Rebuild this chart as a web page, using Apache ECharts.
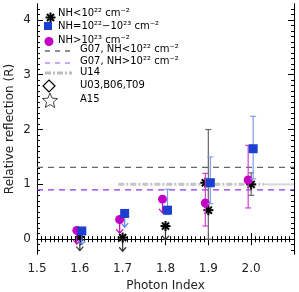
<!DOCTYPE html>
<html><head><meta charset="utf-8">
<script src="https://cdn.jsdelivr.net/npm/echarts@6/dist/echarts.min.js"></script>
<style>html,body{margin:0;padding:0;background:#fff}#c{width:299px;height:292px}</style>
</head><body><div id="c"></div>
<script>
// ---- data ----
const photonIndex = [1.6, 1.7, 1.8, 1.9, 2.0];
const xTickLabels = ['1.5', '1.6', '1.7', '1.8', '1.9', '2.0'];
const yTickLabels = [0, 1, 2, 3, 4];

// NH < 1e22 (black stars)
const lowR      = [0.04, 0.03, 0.24, 0.53, 1.00];
const lowErrLo  = [null, null, null, 0.00, 0.80];
const lowErrHi  = [null, null, null, 2.00, 1.21];
const lowUL     = [true, true, true, false, false];
// second NH<1e22 point at 1.9
const lowExtraX = [1.9];
const lowExtraR = [1.03];

// NH = 1e22-1e23 (blue squares)
const midR      = [0.15, 0.47, 0.53, 1.03, 1.65];
const midErrLo  = [null, null, 0.45, 0.65, 1.10];
const midErrHi  = [null, null, 0.91, 1.50, 2.24];
const midUL     = [true, true, false, false, false];

// NH > 1e23 (magenta circles)
const highR     = [0.16, 0.36, 0.73, 0.66, 1.08];
const highErrLo = [null, null, null, 0.24, 0.57];
const highErrHi = [null, null, null, 1.20, 1.71];
const highUL    = [true, true, true, false, false];

// reference lines
const g07LowR  = 1.31;
const g07HighR = 0.90;
const u14R     = 1.00;
const u14Range = [1.69, 2.03];
const xRange = [1.5, 2.1];
const yRange = [-0.27, 4.29];

// ---- rendering ----
const FONT = 'DejaVu Sans';
const BLUE = '#1c3fd0', BLUE_ERR = '#7f9ce8';
const MAG = '#c400c4', MAG_ERR = '#d040d0';
const BLACK = '#000', BLACK_ERR = '#666';
const ARROW_LEN = 0.25;

function starShape(cx, cy, r, color, lw) {
  const ch = [];
  for (let k = 0; k < 4; k++) {
    const a = k * Math.PI / 4;
    const dx = Math.cos(a) * r, dy = Math.sin(a) * r;
    ch.push({type: 'line', shape: {x1: cx - dx, y1: cy - dy, x2: cx + dx, y2: cy + dy},
      style: {stroke: color, lineWidth: lw}});
  }
  return ch;
}
function marker(kind, cx, cy) {
  if (kind === 'star') return starShape(cx, cy, 5, BLACK, 2);
  if (kind === 'square') return [{type: 'rect', shape: {x: cx - 4.5, y: cy - 4.5, width: 9, height: 9}, style: {fill: BLUE}}];
  return [{type: 'circle', shape: {cx: cx, cy: cy, r: 4.5}, style: {fill: MAG}}];
}

function makeRender(xs, rs, los, his, uls, kind, dx, errColor, arrowColor) {
  return function (params, api) {
    const i = params.dataIndex;
    const p = api.coord([xs[i], rs[i]]);
    const cx = p[0] + dx, cy = p[1];
    const ch = [];
    if (his && his[i] != null) {
      const top = api.coord([xs[i], his[i]])[1];
      const bot = api.coord([xs[i], los[i]])[1];
      ch.push({type: 'line', shape: {x1: cx, y1: top, x2: cx, y2: bot}, style: {stroke: errColor, lineWidth: 1.2}});
      ch.push({type: 'line', shape: {x1: cx - 3, y1: top, x2: cx + 3, y2: top}, style: {stroke: errColor, lineWidth: 1.2}});
      ch.push({type: 'line', shape: {x1: cx - 3, y1: bot, x2: cx + 3, y2: bot}, style: {stroke: errColor, lineWidth: 1.2}});
    }
    if (uls && uls[i]) {
      const end = api.coord([xs[i], rs[i] - ARROW_LEN])[1];
      ch.push({type: 'line', shape: {x1: cx, y1: cy, x2: cx, y2: end}, style: {stroke: arrowColor, lineWidth: 1.2}});
      ch.push({type: 'polyline', shape: {points: [[cx - 3.5, end - 4], [cx, end], [cx + 3.5, end - 4]]}, style: {stroke: arrowColor, lineWidth: 1.2, fill: null}});
    }
    marker(kind, cx, cy).forEach(e => ch.push(e));
    return {type: 'group', children: ch};
  };
}

function pts(xs, rs) { return xs.map((x, i) => [x, rs[i]]); }

const minorY = [];
for (let k = -2; k <= 42; k++) { if (k % 10 !== 0) minorY.push(Math.round(k) / 10); }

const baseAxisLine = {show: true, lineStyle: {color: '#000', width: 1}};
function yAx(pos, vals, len, labels) {
  return {type: 'value', position: pos, min: yRange[0], max: yRange[1],
    axisLine: baseAxisLine, splitLine: {show: false},
    axisTick: {show: true, inside: true, length: len, customValues: vals, lineStyle: {color: '#000'}},
    axisLabel: labels ? {show: true, customValues: vals, margin: 6, fontFamily: FONT, fontSize: 12, color: '#222'} : {show: false},
    name: labels ? 'Relative reflection (R)' : '', nameLocation: 'middle', nameGap: 21, nameMoveOverlap: false,
    nameTextStyle: {fontFamily: FONT, fontSize: 12, color: '#222'}};
}
function xAx(pos, labels) {
  return {type: 'value', position: pos, min: xRange[0], max: xRange[1], interval: 0.1,
    axisLine: baseAxisLine, splitLine: {show: false},
    axisTick: {show: true, inside: true, length: 6, lineStyle: {color: '#000'}},
    minorTick: {show: true, splitNumber: 10, length: 3, lineStyle: {color: '#000'}},
    axisLabel: labels ? {show: true, margin: 9, fontFamily: FONT, fontSize: 12, color: '#222',
      formatter: v => { const s = v.toFixed(1); return xTickLabels.indexOf(s) >= 0 ? s : ''; }} : {show: false},
    name: labels ? 'Photon Index' : '', nameLocation: 'middle', nameGap: 23,
    nameTextStyle: {fontFamily: FONT, fontSize: 12, color: '#222'}};
}

const chart = echarts.init(document.getElementById('c'), null, {renderer: 'canvas'});
const lineLegendX1 = 45, lineLegendX2 = 72;
const txt = (x, y, s) => ({type: 'text', left: x, top: y, style: {text: s, fontFamily: FONT, fontSize: 10, fill: '#000'}, z: 100});
const legendItems = [
  {type: 'group', left: 43, top: 10, children: starShape(5, 5, 5, '#000', 2), z: 100},
  {type: 'rect', left: 44, top: 22, shape: {width: 8, height: 8}, style: {fill: BLUE}, z: 100},
  {type: 'circle', left: 44.5, top: 37, shape: {r: 4.5}, style: {fill: MAG}, z: 100},
  {type: 'line', shape: {x1: lineLegendX1, y1: 51, x2: lineLegendX2, y2: 51}, style: {stroke: '#222', lineWidth: 1, lineDash: [5, 5]}, z: 100},
  {type: 'line', shape: {x1: lineLegendX1, y1: 63, x2: lineLegendX2, y2: 63}, style: {stroke: '#9a55e8', lineWidth: 1, lineDash: [5, 5]}, z: 100},
  {type: 'line', shape: {x1: lineLegendX1, y1: 73, x2: lineLegendX2, y2: 73}, style: {stroke: '#bdbdbd', lineWidth: 3, lineDash: [6, 2, 2, 2]}, z: 100},
  {type: 'polygon', shape: {points: [[49, 80], [55, 86], [49, 92], [43, 86]]}, style: {fill: '#fff', stroke: '#000', lineWidth: 1.2}, z: 100},
  {type: 'polygon', shape: {points: (function () { const p = []; for (let k = 0; k < 10; k++) { const a = -Math.PI / 2 + k * Math.PI / 5; const r = k % 2 ? 3.5 : 8; p.push([50 + r * Math.cos(a), 101 + r * Math.sin(a)]); } return p; })()}, style: {fill: '#fff', stroke: '#444', lineWidth: 1}, z: 100},
  txt(58, 8, 'NH<10²² cm⁻²'),
  txt(58, 21, 'NH=10²²−10²³ cm⁻²'),
  txt(58, 35, 'NH>10²³ cm⁻²'),
  txt(80, 44, 'G07, NH<10²² cm⁻²'),
  txt(80, 56, 'G07, NH>10²² cm⁻²'),
  txt(80, 67, 'U14'),
  txt(80, 80, 'U03,B06,T09'),
  txt(80, 94, 'A15')
];

chart.setOption({
  animation: false,
  grid: {left: 37, top: 4, width: 257, height: 250, outerBoundsMode: 'none', containLabel: false},
  xAxis: [xAx('bottom', true), xAx('top', false)],
  yAxis: [yAx('left', yTickLabels, 6, true), yAx('left', minorY, 3, false), yAx('right', yTickLabels, 6, false), yAx('right', minorY, 3, false)],
  graphic: legendItems,
  series: [
    {type: 'line', data: [[xRange[0], g07LowR], [xRange[1], g07LowR]], symbol: 'none', lineStyle: {color: '#666', width: 1.2, type: [6, 5]}, z: 1},
    {type: 'line', data: [[xRange[0], g07HighR], [xRange[1], g07HighR]], symbol: 'none', lineStyle: {color: '#8c35e6', width: 1.2, type: [6, 5]}, z: 1},
    {type: 'line', data: [[u14Range[0], u14R], [u14Range[1], u14R]], symbol: 'none', lineStyle: {color: '#c4c4c4', width: 3, type: [6, 2, 2, 2]}, z: 1},
    {type: 'line', data: [[u14Range[1], u14R], [xRange[1], u14R]], symbol: 'none', lineStyle: {color: '#d6d6d6', width: 2}, z: 1},
    {type: 'custom', data: pts(photonIndex, lowR), renderItem: makeRender(photonIndex, lowR, lowErrLo, lowErrHi, lowUL, 'star', 0, BLACK_ERR, '#333'), z: 2},
    {type: 'custom', data: pts(lowExtraX, lowExtraR), renderItem: makeRender(lowExtraX, lowExtraR, null, null, null, 'star', -3, BLACK_ERR, '#333'), z: 2},
    {type: 'custom', data: pts(photonIndex, highR), renderItem: makeRender(photonIndex, highR, highErrLo, highErrHi, highUL, 'circle', -3, MAG_ERR, MAG), z: 3},
    {type: 'custom', data: pts(photonIndex, midR), renderItem: makeRender(photonIndex, midR, midErrLo, midErrHi, midUL, 'square', 2, BLUE_ERR, '#5a7fe8'), z: 4}
  ]
});
</script></body></html>
